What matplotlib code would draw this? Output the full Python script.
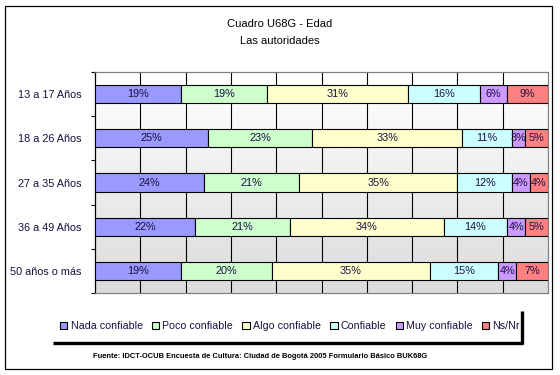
import numpy as np
import matplotlib
matplotlib.use("Agg")
import matplotlib.pyplot as plt
from matplotlib.patches import Rectangle
from matplotlib.lines import Line2D

plt.rcParams['font.family'] = ['Liberation Sans', 'DejaVu Sans']

# Data
grupos = ["13 a 17 Años", "18 a 26 Años", "27 a 35 Años", "36 a 49 Años", "50 años o más"]
series = ["Nada confiable", "Poco confiable", "Algo confiable", "Confiable", "Muy confiable", "Ns/Nr"]
nada = [19, 25, 24, 22, 19]
poco = [19, 23, 21, 21, 20]
algo = [31, 33, 35, 34, 35]
confiable = [16, 11, 12, 14, 15]
muy = [6, 3, 4, 4, 4]
nsnr = [9, 5, 4, 5, 7]
colores = ["#9999FF", "#CCFFCC", "#FFFFCC", "#CCFFFF", "#CC99FF", "#FF8080"]

valores = np.array([nada, poco, algo, confiable, muy, nsnr], dtype=float)
txt_color = "#1a0f40"

W, H = 560, 375
fig = plt.figure(figsize=(W / 100, H / 100), dpi=100)

# outer frame
fig.add_artist(Rectangle((5 / W, 1 - 369 / H), 547 / W, 363 / H, transform=fig.transFigure,
                         fill=False, edgecolor="black", lw=0.9))

ax = fig.add_axes([95 / W, 1 - 293 / H, 453 / W, 221 / H])

# gradient background, white on top to grey at the bottom
grad = np.linspace(1.0, 0.86, 256).reshape(-1, 1)
ax.imshow(grad, cmap="gray", vmin=0, vmax=1, aspect="auto", origin="upper",
          extent=[0, 1, 0, 1], transform=ax.transAxes, zorder=0)

y = np.arange(len(grupos))
left = np.zeros(len(grupos))
for i, s in enumerate(series):
    vals = valores[i]
    ax.barh(y, vals, left=left, height=0.41, color=colores[i], edgecolor="black",
            linewidth=0.8, zorder=3, label=s)
    for yy, l, v in zip(y, left, vals):
        ax.text(l + v / 2, yy, f"{int(v)}%", ha="center", va="center",
                fontsize=7.8, color=txt_color, zorder=4)
    left += vals

ax.set_xlim(0, 100)
ax.set_ylim(len(grupos) - 0.5, -0.5)
ax.set_xticks(np.arange(10, 100, 10))
ax.xaxis.grid(True, color="black", linewidth=0.8, zorder=1)
ax.set_axisbelow(True)
ax.tick_params(axis="x", length=0, labelbottom=False)

ax.set_yticks(y)
ax.set_yticklabels(grupos, fontsize=7.8, color=txt_color)
ax.tick_params(axis="y", which="major", length=0, pad=9.5)
ax.set_yticks(np.arange(-0.5, len(grupos), 1), minor=True)
ax.tick_params(axis="y", which="minor", length=3, direction="out", width=0.8)

for side in ["top", "right", "bottom"]:
    ax.spines[side].set_color("#808080")
    ax.spines[side].set_linewidth(0.9)
ax.spines["left"].set_color("black")
ax.spines["left"].set_linewidth(0.9)

# titles
fig.text(280 / W, 1 - 24 / H, "Cuadro U68G - Edad", ha="center", va="center", fontsize=8)
fig.text(280 / W, 1 - 41 / H, "Las autoridades", ha="center", va="center", fontsize=8)

# legend with shadow
handles, labels = ax.get_legend_handles_labels()
leg = fig.legend(handles, labels, loc="center", bbox_to_anchor=(290 / W, 1 - 326 / H),
                 ncol=6, frameon=False, fontsize=7.7, handlelength=0.7, handleheight=0.7,
                 handletextpad=0.3, columnspacing=0.85, borderpad=0.2)
for t in leg.get_texts():
    t.set_color(txt_color)
fig.add_artist(Line2D([53 / W, 523 / W], [1 - 343 / H, 1 - 343 / H], transform=fig.transFigure,
                      color="black", lw=2.4, solid_capstyle="butt"))
fig.add_artist(Line2D([522 / W, 522 / W], [1 - 311 / H, 1 - 344 / H], transform=fig.transFigure,
                      color="black", lw=2.4, solid_capstyle="butt"))

fig.text(93 / W, 1 - 356 / H,
         "Fuente: IDCT-OCUB Encuesta de Cultura: Ciudad de Bogotá 2005 Formulario Básico BUK68G",
         ha="left", va="center", fontsize=5.4, fontweight="bold")

fig.savefig("out.png", dpi=100)
